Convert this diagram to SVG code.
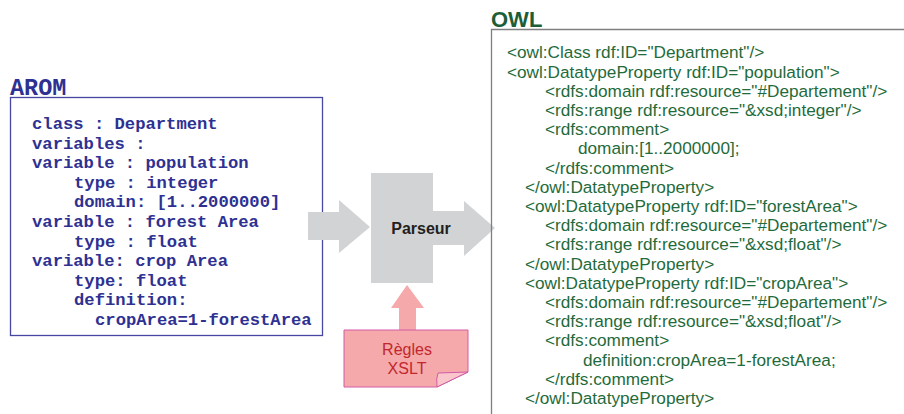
<svg xmlns="http://www.w3.org/2000/svg" width="904" height="414" viewBox="0 0 904 414">
<style>
.arom{font-family:"Liberation Mono","Courier New",monospace;font-weight:bold;font-size:17.2px;fill:#2e3192;}
.owl{font-family:"Liberation Sans",Arial,sans-serif;font-size:17.2px;fill:#1f6b3b;}
.grey{fill:#d1d3d4;}
.lbl{font-family:"Liberation Sans",Arial,sans-serif;font-size:16px;fill:#c1272d;}
</style>
<rect width="904" height="414" fill="#ffffff"/>
<g id="arom">
<text x="10" y="95" style="font-family:'Liberation Mono','Courier New',monospace;font-weight:bold;font-size:23.5px;fill:#2e3192">AROM</text>
<rect x="10.5" y="97.5" width="312" height="238" fill="none" stroke="#4547a0" stroke-width="1.3"/>
<text class="arom" x="32" y="129">class : Department</text>
<text class="arom" x="32" y="148.6">variables :</text>
<text class="arom" x="32" y="168.2">variable : population</text>
<text class="arom" x="74" y="187.8">type : integer</text>
<text class="arom" x="74" y="207.4">domain: [1..2000000]</text>
<text class="arom" x="32" y="227">variable : forest Area</text>
<text class="arom" x="74" y="246.6">type : float</text>
<text class="arom" x="32" y="266.2">variable: crop Area</text>
<text class="arom" x="74" y="285.8">type: float</text>
<text class="arom" x="74" y="305.4">definition:</text>
<text class="arom" x="95" y="325">cropArea=1-forestArea</text>
</g>
<g id="connectors">
<polygon class="grey" points="308,212 339,212 339,200 370,227 339,253 339,240 308,240"/>
<polygon class="grey" points="433,211 464,211 464,201 495,228 464,256 464,245 433,245"/>
<polygon points="399,330 399,308 391,308 407,285 424,308 416,308 416,330" fill="#f5a9aa"/>
</g>
<g id="parseur">
<rect class="grey" x="371" y="173" width="62" height="110"/>
<text x="421" y="234" text-anchor="middle" style="font-family:'Liberation Sans',Arial,sans-serif;font-weight:bold;font-size:16px;fill:#231f20">Parseur</text>
</g>
<g id="regles">
<path d="M344,330 H468 V372 L437,387 H344 Z" fill="#f5a9aa" stroke="#d35aa6" stroke-width="1"/>
<path d="M437,387 Q436,378 438,373 L468,372 Z" fill="#f9c6cc" stroke="#d35aa6" stroke-width="1"/>
<text class="lbl" x="407" y="355" text-anchor="middle">Règles</text>
<text class="lbl" x="407" y="374" text-anchor="middle">XSLT</text>
</g>
<g id="owl">
<text x="491" y="27" style="font-family:'Liberation Sans',Arial,sans-serif;font-weight:bold;font-size:22px;fill:#1c5e37">OWL</text>
<path d="M491.5,414 V29.5 H904" fill="none" stroke="#7f7f7f" stroke-width="1.3"/>
<text class="owl" x="507" y="58.3">&lt;owl:Class rdf:ID="Department"/&gt;</text>
<text class="owl" x="507" y="77.5">&lt;owl:DatatypeProperty rdf:ID="population"&gt;</text>
<text class="owl" x="545" y="96.7">&lt;rdfs:domain rdf:resource="#Departement"/&gt;</text>
<text class="owl" x="545" y="115.9">&lt;rdfs:range rdf:resource="&amp;xsd;integer"/&gt;</text>
<text class="owl" x="545" y="135.1">&lt;rdfs:comment&gt;</text>
<text class="owl" x="578" y="154.3">domain:[1..2000000];</text>
<text class="owl" x="545" y="173.5">&lt;/rdfs:comment&gt;</text>
<text class="owl" x="525" y="192.7">&lt;/owl:DatatypeProperty&gt;</text>
<text class="owl" x="525" y="211.9">&lt;owl:DatatypeProperty rdf:ID="forestArea"&gt;</text>
<text class="owl" x="545" y="231.1">&lt;rdfs:domain rdf:resource="#Departement"/&gt;</text>
<text class="owl" x="545" y="250.3">&lt;rdfs:range rdf:resource="&amp;xsd;float"/&gt;</text>
<text class="owl" x="525" y="269.5">&lt;/owl:DatatypeProperty&gt;</text>
<text class="owl" x="525" y="288.7">&lt;owl:DatatypeProperty rdf:ID="cropArea"&gt;</text>
<text class="owl" x="545" y="307.9">&lt;rdfs:domain rdf:resource="#Departement"/&gt;</text>
<text class="owl" x="545" y="327.1">&lt;rdfs:range rdf:resource="&amp;xsd;float"/&gt;</text>
<text class="owl" x="545" y="346.3">&lt;rdfs:comment&gt;</text>
<text class="owl" x="583" y="365.5">definition:cropArea=1-forestArea;</text>
<text class="owl" x="545" y="384.7">&lt;/rdfs:comment&gt;</text>
<text class="owl" x="525" y="403.9">&lt;/owl:DatatypeProperty&gt;</text>
</g>
</svg>
